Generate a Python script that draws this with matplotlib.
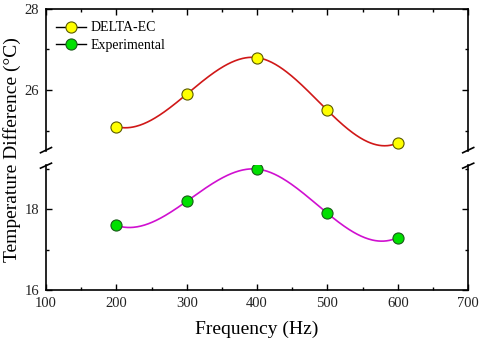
import matplotlib
matplotlib.use("Agg")
import matplotlib.pyplot as plt
import numpy as np

plt.rcParams['font.family'] = ['Liberation Serif', 'DejaVu Serif']

freq = np.array([200, 300, 400, 500, 600])
delta_ec = np.array([25.1, 25.9, 26.8, 25.5, 24.7])
experimental = np.array([17.6, 18.2, 19.0, 17.9, 17.3])


def spline(x, y, xs):
    # cubic spline, not-a-knot ends
    n = len(x) - 1
    A = np.zeros((4 * n, 4 * n))
    b = np.zeros(4 * n)
    r = 0
    for i in range(n):
        for xx, yy in ((x[i], y[i]), (x[i + 1], y[i + 1])):
            A[r, 4 * i:4 * i + 4] = [1, xx, xx ** 2, xx ** 3]
            b[r] = yy
            r += 1
    for i in range(1, n):
        xx = x[i]
        A[r, 4 * (i - 1):4 * i] = [0, 1, 2 * xx, 3 * xx ** 2]
        A[r, 4 * i:4 * i + 4] = [0, -1, -2 * xx, -3 * xx ** 2]
        r += 1
        A[r, 4 * (i - 1):4 * i] = [0, 0, 2, 6 * xx]
        A[r, 4 * i:4 * i + 4] = [0, 0, -2, -6 * xx]
        r += 1
    for i in (1, n - 1):
        A[r, 4 * (i - 1) + 3] = 1
        A[r, 4 * i + 3] = -1
        r += 1
    c = np.linalg.solve(A, b).reshape(n, 4)
    idx = np.clip(np.searchsorted(x, xs) - 1, 0, n - 1)
    cc = c[idx]
    return cc[:, 0] + cc[:, 1] * xs + cc[:, 2] * xs ** 2 + cc[:, 3] * xs ** 3


xs = np.linspace(200, 600, 300)

fig = plt.figure(figsize=(4.82, 3.41), dpi=100)
ax1 = fig.add_axes([0.0954, 0.557, 0.876, 0.417])
ax2 = fig.add_axes([0.0954, 0.150, 0.876, 0.366])

ax1.plot(xs, spline(freq, delta_ec, xs), color='#d01818', lw=1.2)
ax1.plot(freq, delta_ec, 'o', ms=8, mfc='#ffff00', mec='#5a5a00', mew=0.8)
ax2.plot(xs, spline(freq, experimental, xs), color='#d010d0', lw=1.2)
ax2.plot(freq, experimental, 'o', ms=8, mfc='#00e000', mec='#1a5a1a', mew=0.8)

ax1.set_ylim(24.5, 28)
ax2.set_ylim(16, 19.1)
for ax in (ax1, ax2):
    ax.set_xlim(100, 700)
    ax.set_xticks(np.arange(100, 701, 100))
    ax.set_xticks(np.arange(150, 700, 100), minor=True)
    ax.tick_params(which='both', direction='in', top=True, right=True,
                   labelsize=10.5, width=1.0, colors='black', labelcolor='#222222')
    ax.tick_params(which='major', length=4, pad=5)
    ax.tick_params(which='minor', length=2.5)
    for s in ax.spines.values():
        s.set_linewidth(1.2)

ax1.set_yticks([26, 28])
ax1.set_yticks([25, 27], minor=True)
ax2.set_yticks([16, 18])
ax2.set_yticks([17, 19], minor=True)

ax1.spines['bottom'].set_visible(False)
ax1.tick_params(which='both', bottom=False, labelbottom=False)
ax2.spines['top'].set_visible(False)
ax2.tick_params(which='both', top=False)

# break marks
d = dict(color='black', lw=1.2, clip_on=False)
for xa in (0, 1):
    ax1.plot([xa - 0.013, xa + 0.013], [-0.012, 0.025], transform=ax1.transAxes, **d)
    ax2.plot([xa - 0.013, xa + 0.013], [0.975, 1.015], transform=ax2.transAxes, **d)

h1, = ax1.plot([], [], '-o', color='black', lw=1.0, ms=8, mfc='#ffff00', mec='#5a5a00', mew=0.8)
h2, = ax1.plot([], [], '-o', color='black', lw=1.0, ms=8, mfc='#00e000', mec='#1a5a1a', mew=0.8)
ax1.legend([h1, h2], ['DELTA-EC', 'Experimental'], loc='upper left', frameon=False,
           fontsize=10, handlelength=2.2, handletextpad=0.3, labelspacing=0.3,
           borderaxespad=0.3, bbox_to_anchor=(0.0, 0.98))

ax2.set_xlabel('Frequency (Hz)', fontsize=14, labelpad=8)
fig.text(0.024, 0.56, 'Temperature Difference (°C)', rotation=90, fontsize=14,
         ha='center', va='center')

fig.savefig('out.png', dpi=100)
